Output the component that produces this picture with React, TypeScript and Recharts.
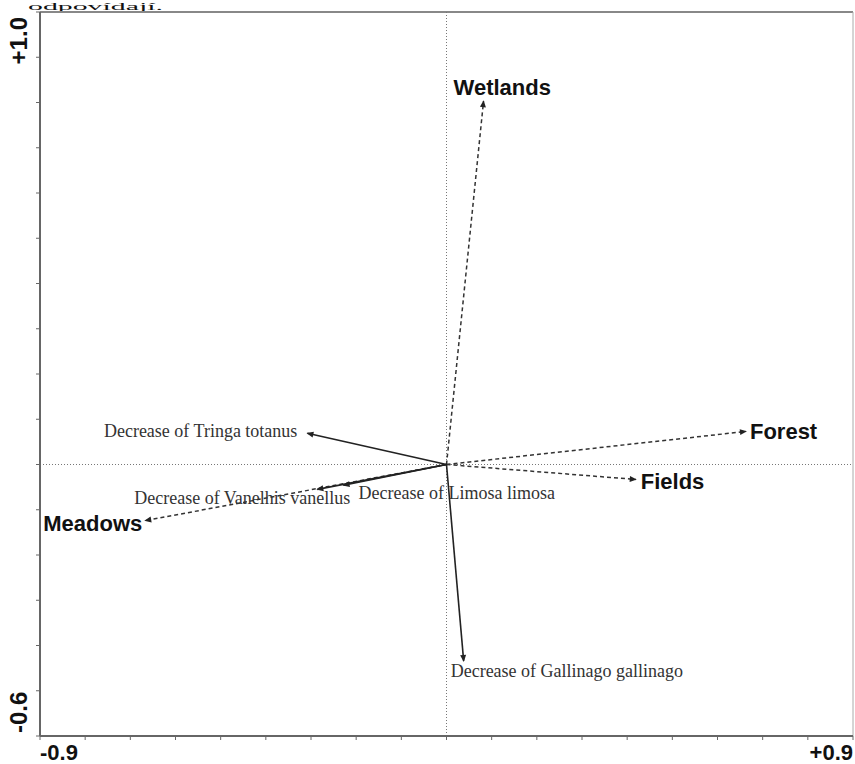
import { ScatterChart, Scatter, XAxis, YAxis, ReferenceLine } from 'recharts';

// environmental variables (dashed arrows)
const envNames = ['Wetlands', 'Forest', 'Fields', 'Meadows'];
const envX = [0.082, 0.663, 0.419, -0.667];
const envY = [0.803, 0.073, -0.033, -0.124];

// species (solid arrows)
const speciesNames = [
  'Decrease of Tringa totanus',
  'Decrease of Vanelhis vanellus',
  'Decrease of Limosa limosa',
  'Decrease of Gallinago gallinago',
];
const speciesX = [-0.308, -0.286, -0.228, 0.038];
const speciesY = [0.069, -0.055, -0.046, -0.434];

const xTicks = [-0.9, -0.8, -0.7, -0.6, -0.5, -0.4, -0.3, -0.2, -0.1, 0, 0.1, 0.2, 0.3, 0.4, 0.5, 0.6, 0.7, 0.8, 0.9];
const yTicks = [-0.6, -0.5, -0.4, -0.3, -0.2, -0.1, 0, 0.1, 0.2, 0.3, 0.4, 0.5, 0.6, 0.7, 0.8, 0.9, 1.0];
const xTickLabels = ['-0.9', '+0.9'];
const yTickLabels = ['-0.6', '+1.0'];

// label offsets from arrow tip: dx, dy, anchor
const envLabelPos: [number, number, string][] = [
  [-30, -6, 'start'],
  [4, 8, 'start'],
  [5, 10, 'start'],
  [-3, 10, 'end'],
];
const speciesLabelPos: [number, number, string][] = [
  [-10, 4, 'end'],
  [33, 15, 'end'],
  [15, 14, 'start'],
  [-13, 16, 'start'],
];

const vector = (x: number, y: number, name: string, i: number) => [
  { x: 0, y: 0 },
  { x, y, name, tip: true, i },
];

const makeShape = (isEnv: boolean) => (props: any) => {
  const { cx, cy, payload } = props;
  if (!payload || !payload.tip) return <g />;
  const ang = (Math.atan2(-payload.y, payload.x) * 180) / Math.PI;
  const [dx, dy, anchor] = (isEnv ? envLabelPos : speciesLabelPos)[payload.i];
  return (
    <g>
      <polygon
        points="1,0 -6,-3 -6,3"
        transform={`translate(${cx},${cy}) rotate(${ang})`}
        fill="#222"
      />
      <text
        x={cx + dx}
        y={cy + dy}
        textAnchor={anchor as any}
        fill={isEnv ? '#111' : '#333'}
        fontFamily={isEnv ? 'Liberation Sans, Arial, sans-serif' : 'Liberation Serif, Times New Roman, serif'}
        fontWeight={isEnv ? 'bold' : 'normal'}
        fontSize={isEnv ? 22 : 18}
      >
        {payload.name}
      </text>
    </g>
  );
};

const XTick = (props: any) => {
  const { x, y, index } = props;
  if (index !== 0 && index !== xTicks.length - 1) return <g />;
  const first = index === 0;
  return (
    <text
      x={x}
      y={y + 18}
      textAnchor={first ? 'start' : 'end'}
      fontFamily="Liberation Sans, Arial, sans-serif"
      fontWeight="bold"
      fontSize={22}
      fill="#111"
    >
      {first ? xTickLabels[0] : xTickLabels[1]}
    </text>
  );
};

const YTick = (props: any) => {
  const { y, index } = props;
  if (index !== 0 && index !== yTicks.length - 1) return <g />;
  const first = index === 0;
  const ty = first ? y - 3 : y + 5;
  return (
    <text
      x={0}
      y={0}
      transform={`translate(27,${ty}) rotate(-90)`}
      textAnchor={first ? 'start' : 'end'}
      fontFamily="Liberation Sans, Arial, sans-serif"
      fontWeight="bold"
      fontSize={24}
      fill="#111"
    >
      {first ? yTickLabels[0] : yTickLabels[1]}
    </text>
  );
};

export default function App() {
  return (
    <div style={{ position: 'absolute', left: 0, top: 0, width: 855, height: 764, overflow: 'hidden', background: '#fff' }}>
      <svg width={855} height={14} style={{ position: 'absolute', left: 0, top: 0 }}>
        <text
          x={28}
          y={10}
          textLength={135}
          lengthAdjust="spacingAndGlyphs"
          fontFamily="Liberation Serif, Times New Roman, serif"
          fontSize={11}
          fill="#111"
        >
          odpovídají.
        </text>
      </svg>
      <ScatterChart width={855} height={764} margin={{ top: 12, right: 2, bottom: 0, left: 0 }}>
        <XAxis
          type="number"
          dataKey="x"
          domain={[-0.9, 0.9]}
          ticks={xTicks}
          interval={0}
          height={28}
          allowDataOverflow
          axisLine={{ stroke: '#666', strokeWidth: 2 }}
          tickLine={{ stroke: '#666' }}
          tickSize={4}
          tick={<XTick />}
        />
        <YAxis
          type="number"
          dataKey="y"
          domain={[-0.6, 1.0]}
          ticks={yTicks}
          interval={0}
          width={40}
          allowDataOverflow
          axisLine={{ stroke: '#666', strokeWidth: 2 }}
          tickLine={{ stroke: '#666' }}
          tickSize={4}
          tick={<YTick />}
        />
        <ReferenceLine y={1.0} stroke="#888" strokeWidth={2} />
        <ReferenceLine x={0.9} stroke="#aaa" strokeWidth={1} />
        <ReferenceLine x={0} stroke="#777" strokeDasharray="1 2" />
        <ReferenceLine y={0} stroke="#777" strokeDasharray="1 2" />
        {envNames.map((n, i) => (
          <Scatter
            key={n}
            data={vector(envX[i], envY[i], n, i)}
            fill="#222"
            line={{ stroke: '#333', strokeWidth: 1.5, strokeDasharray: '4 3' }}
            shape={makeShape(true)}
            isAnimationActive={false}
          />
        ))}
        {speciesNames.map((n, i) => (
          <Scatter
            key={n}
            data={vector(speciesX[i], speciesY[i], n, i)}
            fill="#222"
            line={{ stroke: '#222', strokeWidth: 1.6 }}
            shape={makeShape(false)}
            isAnimationActive={false}
          />
        ))}
      </ScatterChart>
    </div>
  );
}
